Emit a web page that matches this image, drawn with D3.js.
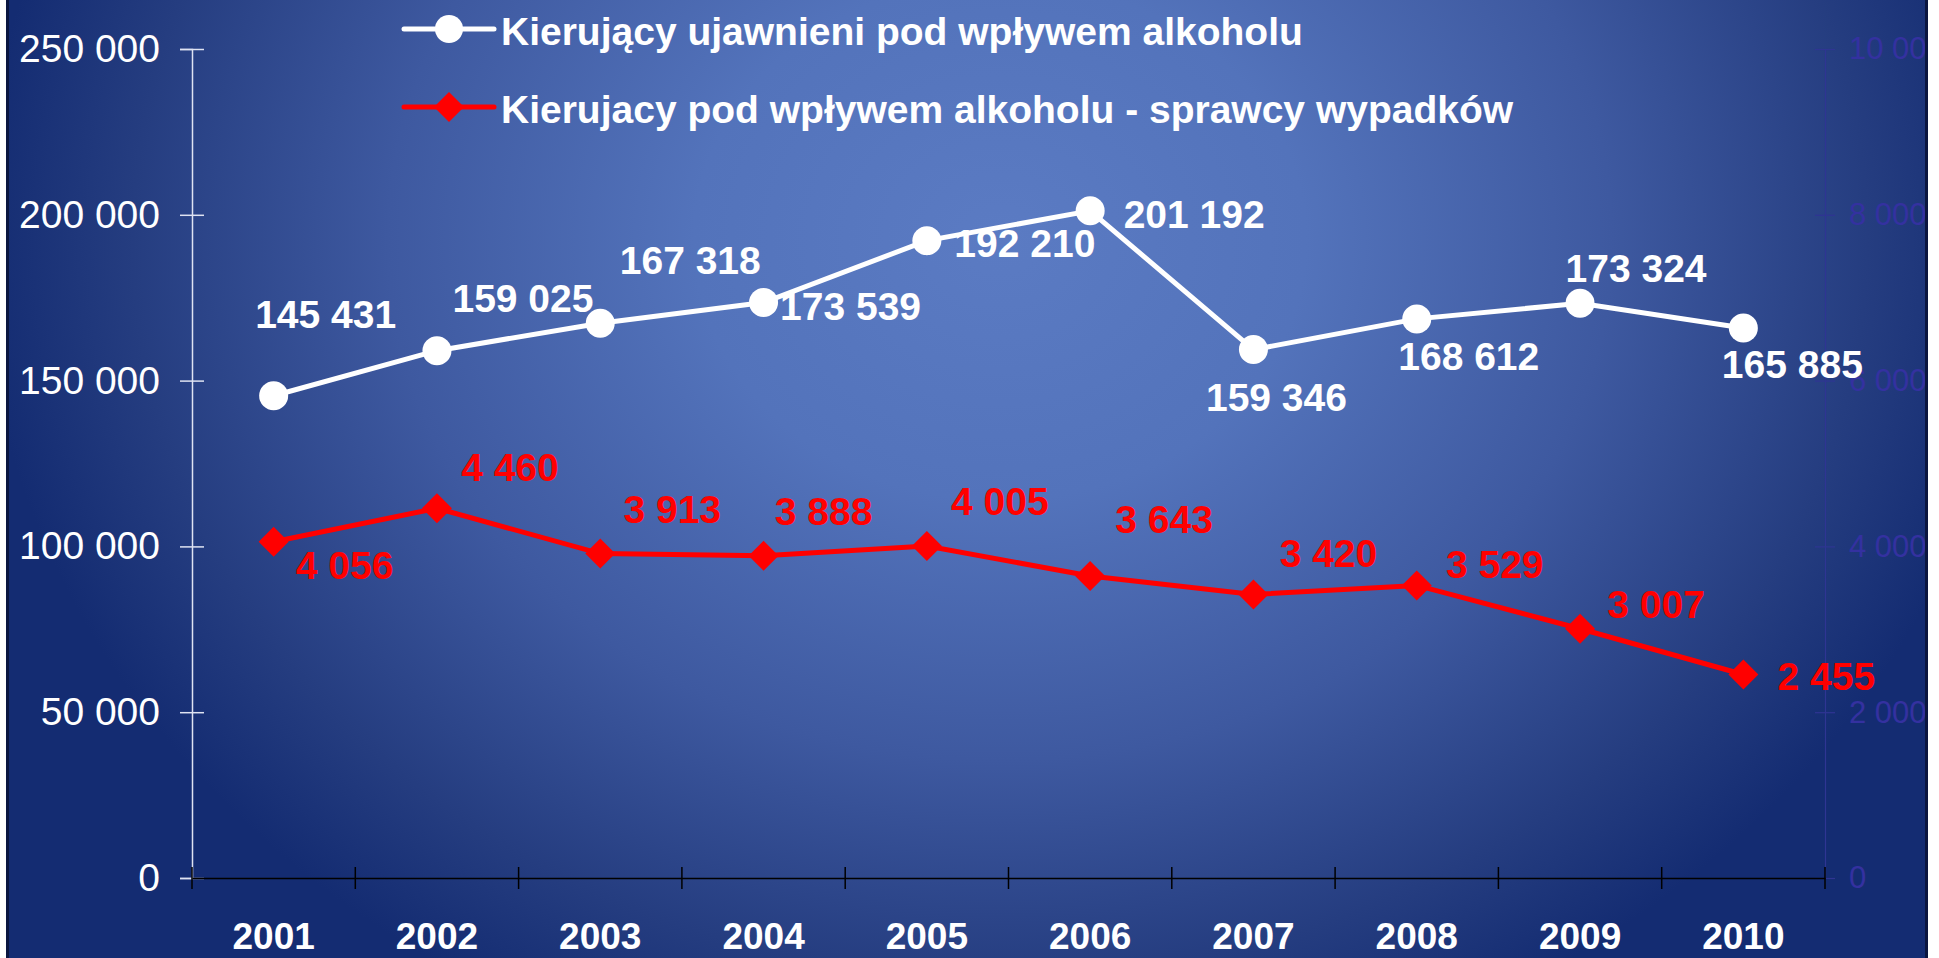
<!DOCTYPE html>
<html>
<head>
<meta charset="utf-8">
<script src="https://cdn.jsdelivr.net/npm/d3@7"></script>
<style>
  html, body { margin: 0; padding: 0; background: #fff; }
  svg { display: block; font-family: "Liberation Sans", Arial, sans-serif; }
</style>
</head>
<body>
<div class="vis"></div>
<script>
(function() {
  'use strict';

  // data
  var years = ['2001', '2002', '2003', '2004', '2005', '2006', '2007', '2008', '2009', '2010'];
  var revealed = [145431, 159025, 167318, 173539, 192210, 201192, 159346, 168612, 173324, 165885];
  var offenders = [4056, 4460, 3913, 3888, 4005, 3643, 3420, 3529, 3007, 2455];
  var leftTicks = [0, 50000, 100000, 150000, 200000, 250000];
  var rightTicks = [0, 2000, 4000, 6000, 8000, 10000];
  var seriesNames = ['Kierujący ujawnieni pod wpływem alkoholu',
    'Kierujacy pod wpływem alkoholu - sprawcy wypadków'];

  // hand placed value labels (offset from the point)
  var whiteLabelDx = [52, 86, 90, 87, 98, 104, 23, 52, 56, 49];
  var whiteLabelDy = [-81, -52, -63, 4, 3, 4, 48, 38, -35, 37];
  var redLabelDx = [71, 73, 72, 60, 73, 74, 75, 78, 76, 83];
  var redLabelDy = [24, -41, -44, -44, -44, -56, -41, -21, -24, 2];

  var W = 1939, H = 958;
  var margin = {top: 49, left: 192, right: 1939 - 1825, bottom: 958 - 878};

  var fmt = d3.formatLocale({decimal: ',', thousands: ' ', grouping: [3], currency: ['', '']}).format(',d');

  var svg = d3.select('.vis').append('svg')
    .attr('width', W)
    .attr('height', H);

  var defs = svg.append('defs');
  var grad = defs.append('radialGradient')
    .attr('id', 'bg')
    .attr('gradientUnits', 'userSpaceOnUse')
    .attr('cx', 1000).attr('cy', 240).attr('r', 1020)
    .attr('gradientTransform', 'translate(1000,240) scale(1,0.85) translate(-1000,-240)');
  [[0, '#5b7bc3'], [0.3, '#5373bb'], [0.6, '#3e59a0'], [0.85, '#253d80'], [1, '#142c72']]
    .forEach(function(s) {
      grad.append('stop').attr('offset', s[0]).attr('stop-color', s[1]);
    });

  svg.append('rect').attr('x', 6).attr('y', 0).attr('width', 1922).attr('height', H).attr('fill', 'url(#bg)');

  var x = d3.scaleBand()
    .domain(years)
    .range([margin.left, W - margin.right]);

  var yL = d3.scaleLinear()
    .domain([0, 250000])
    .range([H - margin.bottom, margin.top]);

  var yR = d3.scaleLinear()
    .domain([0, 10000])
    .range([H - margin.bottom, margin.top]);

  function cx(d, i) { return x(years[i]) + x.bandwidth() / 2; }

  // left axis
  var gL = svg.append('g')
    .attr('transform', 'translate(' + margin.left + ',0)')
    .call(d3.axisLeft(yL).tickValues(leftTicks).tickFormat(fmt).tickSize(12).tickPadding(20));
  gL.select('.domain').attr('stroke', '#dfe3f2').attr('stroke-width', 1.5);
  gL.selectAll('.tick line').attr('x2', 12).attr('x1', -12).attr('stroke', '#dfe3f2').attr('stroke-width', 1.5);
  gL.selectAll('.tick text').attr('fill', '#fff').attr('font-size', 39).attr('font-family', '"Liberation Sans", Arial, sans-serif');

  // right axis
  var gR = svg.append('g')
    .attr('transform', 'translate(' + (W - margin.right) + ',0)')
    .call(d3.axisRight(yR).tickValues(rightTicks).tickFormat(fmt).tickSize(10).tickPadding(14));
  gR.select('.domain').attr('stroke', '#2f3593').attr('stroke-width', 1.2);
  gR.selectAll('.tick line').attr('x1', -10).attr('stroke', '#2f3593').attr('stroke-width', 1.2);
  gR.selectAll('.tick text').attr('fill', '#3431a0').attr('font-size', 31).attr('font-family', '"Liberation Sans", Arial, sans-serif');

  // bottom axis
  var gX = svg.append('g')
    .attr('transform', 'translate(0,' + (H - margin.bottom) + ')')
    .call(d3.axisBottom(x).tickSize(0).tickPadding(45));
  gX.select('.domain').attr('stroke', '#000').attr('stroke-width', 1.5);
  gX.selectAll('.tick text').attr('fill', '#fff').attr('font-size', 37).attr('font-weight', 'bold')
    .attr('font-family', '"Liberation Sans", Arial, sans-serif');
  gX.selectAll('.sep')
    .data(years.concat(['end']))
    .enter().append('line')
      .attr('class', 'sep')
      .attr('x1', function(d, i) { return i < years.length ? x(d) : x(years[years.length - 1]) + x.bandwidth(); })
      .attr('x2', function(d, i) { return i < years.length ? x(d) : x(years[years.length - 1]) + x.bandwidth(); })
      .attr('y1', -11).attr('y2', 11)
      .attr('stroke', '#000').attr('stroke-width', 1.5);

  // white series
  var lineW = d3.line().x(cx).y(function(d) { return yL(d); });
  svg.append('path')
    .datum(revealed)
    .attr('d', lineW)
    .attr('fill', 'none')
    .attr('stroke', '#fff')
    .attr('stroke-width', 5);
  svg.selectAll('.pt-w')
    .data(revealed)
    .enter().append('circle')
      .attr('class', 'pt-w')
      .attr('cx', cx)
      .attr('cy', function(d) { return yL(d); })
      .attr('r', 14.5)
      .attr('fill', '#fff');

  // red series
  var lineR = d3.line().x(cx).y(function(d) { return yR(d); });
  svg.append('path')
    .datum(offenders)
    .attr('d', lineR)
    .attr('fill', 'none')
    .attr('stroke', '#ff0000')
    .attr('stroke-width', 5);
  var diamond = d3.symbol().type(d3.symbolSquare).size(450);
  svg.selectAll('.pt-r')
    .data(offenders)
    .enter().append('path')
      .attr('class', 'pt-r')
      .attr('d', diamond)
      .attr('transform', function(d, i) {
        return 'translate(' + cx(d, i) + ',' + yR(d) + ') rotate(45)';
      })
      .attr('fill', '#ff0000');

  // value labels
  svg.selectAll('.lab-w')
    .data(revealed)
    .enter().append('text')
      .attr('class', 'lab-w')
      .attr('x', function(d, i) { return cx(d, i) + whiteLabelDx[i]; })
      .attr('y', function(d, i) { return yL(d) + whiteLabelDy[i]; })
      .attr('text-anchor', 'middle')
      .attr('dominant-baseline', 'central')
      .attr('font-size', 39)
      .attr('font-weight', 'bold')
      .attr('fill', '#fff')
      .text(fmt);

  svg.selectAll('.lab-r')
    .data(offenders)
    .enter().append('text')
      .attr('class', 'lab-r')
      .attr('x', function(d, i) { return cx(d, i) + redLabelDx[i]; })
      .attr('y', function(d, i) { return yR(d) + redLabelDy[i]; })
      .attr('text-anchor', 'middle')
      .attr('dominant-baseline', 'central')
      .attr('font-size', 39)
      .attr('font-weight', 'bold')
      .attr('fill', '#ff0000')
      .text(fmt);

  // legend
  var legend = svg.append('g').attr('transform', 'translate(404,0)');
  var legY = [29, 107];
  var legColor = ['#fff', '#ff0000'];
  legend.selectAll('.leg-line')
    .data(seriesNames)
    .enter().append('line')
      .attr('x1', 0).attr('x2', 90)
      .attr('y1', function(d, i) { return legY[i]; })
      .attr('y2', function(d, i) { return legY[i]; })
      .attr('stroke', function(d, i) { return legColor[i]; })
      .attr('stroke-width', 5)
      .attr('stroke-linecap', 'round');
  legend.append('circle')
    .attr('cx', 45).attr('cy', legY[0]).attr('r', 14).attr('fill', '#fff');
  legend.append('path')
    .attr('d', diamond)
    .attr('transform', 'translate(45,' + legY[1] + ') rotate(45)')
    .attr('fill', '#ff0000');
  legend.selectAll('.leg-text')
    .data(seriesNames)
    .enter().append('text')
      .attr('x', 97)
      .attr('y', function(d, i) { return legY[i] + 2; })
      .attr('dominant-baseline', 'central')
      .attr('font-size', 39)
      .attr('font-weight', 'bold')
      .attr('fill', '#fff')
      .text(function(d) { return d; });

  // frame edges drawn last so the right labels get clipped like the slide
  svg.append('rect').attr('x', 6).attr('y', 0).attr('width', 3).attr('height', H).attr('fill', '#0b1640');
  svg.append('rect').attr('x', 1925).attr('y', 0).attr('width', 3).attr('height', H).attr('fill', '#0b1640');
  svg.append('rect').attr('x', 1928).attr('y', 0).attr('width', 11).attr('height', H).attr('fill', '#fff');
}());
</script>
</body>
</html>
